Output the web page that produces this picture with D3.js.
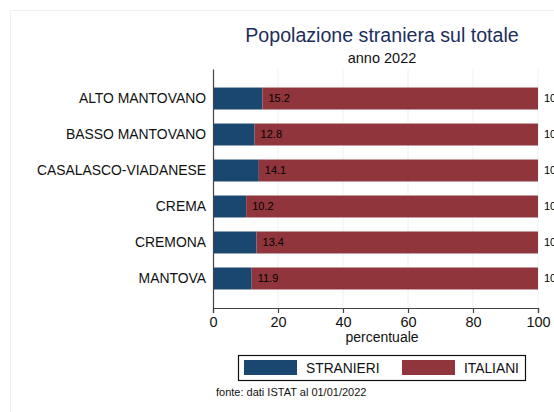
<!DOCTYPE html>
<html lang="it">
<head>
    <meta charset="UTF-8">
    <title>Popolazione straniera sul totale</title>
    <script src="https://d3js.org/d3.v7.min.js"></script>
    <style>
        body { margin: 0; background: #ffffff; }
        svg { display: block; font-family: "Liberation Sans", Arial, sans-serif; }
    </style>
</head>
<body>
    <div id="chart"></div>

    <script>
        // Dati
        const categories = ["ALTO MANTOVANO", "BASSO MANTOVANO", "CASALASCO-VIADANESE", "CREMA", "CREMONA", "MANTOVA"];
        const stranieri = [15.2, 12.8, 14.1, 10.2, 13.4, 11.9];
        const italiani = [84.8, 87.2, 85.9, 89.8, 86.6, 88.1];
        const xTicks = [0, 20, 40, 60, 80, 100];
        const seriesNames = ["STRANIERI", "ITALIANI"];

        const width = 554;
        const height = 412;

        const colors = {
            stranieri: "#1a476f",
            italiani: "#90353b",
            title: "#1c2d5c",
            grid: "#eaf2f3",
            axis: "#444444",
            frame: "#eaf2f2"
        };

        const svg = d3.select("#chart")
            .append("svg")
            .attr("width", width)
            .attr("height", height);

        // cornice chiara (tagliata a destra e in basso)
        svg.append("rect")
            .attr("x", 10.5).attr("y", 10.5)
            .attr("width", 700).attr("height", 500)
            .attr("fill", "none")
            .attr("stroke", colors.frame);

        const x = d3.scaleLinear().domain([0, 100]).range([213, 538]);
        const y = d3.scaleBand()
            .domain(categories)
            .range([69, 308])
            .paddingInner(0.39)
            .paddingOuter(0.515);

        // griglia
        svg.append("g")
            .selectAll("line")
            .data(xTicks.filter(d => d > 0))
            .join("line")
            .attr("x1", d => x(d)).attr("x2", d => x(d))
            .attr("y1", 69).attr("y2", 308)
            .attr("stroke", colors.grid)
            .attr("stroke-width", 1);

        // barre impilate
        const rows = categories.map((c, i) => ({ cat: c, s: stranieri[i], it: italiani[i] }));

        svg.append("g")
            .selectAll("rect")
            .data(rows)
            .join("rect")
            .attr("x", x(0))
            .attr("y", d => y(d.cat))
            .attr("width", d => x(d.s) - x(0))
            .attr("height", y.bandwidth())
            .attr("fill", colors.stranieri);

        svg.append("g")
            .selectAll("rect")
            .data(rows)
            .join("rect")
            .attr("x", d => x(d.s))
            .attr("y", d => y(d.cat))
            .attr("width", d => x(d.s + d.it) - x(d.s))
            .attr("height", y.bandwidth())
            .attr("fill", colors.italiani);

        // etichette valori
        svg.append("g")
            .selectAll("text")
            .data(rows)
            .join("text")
            .attr("x", d => x(d.s) + 6)
            .attr("y", d => y(d.cat) + y.bandwidth() / 2)
            .attr("dy", "0.35em")
            .attr("font-size", 11)
            .attr("fill", "#000")
            .text(d => d.s.toFixed(1));

        // il totale (100) esce dal bordo destro come nell'originale
        svg.append("g")
            .selectAll("text")
            .data(rows)
            .join("text")
            .attr("x", d => x(d.s + d.it) + 6)
            .attr("y", d => y(d.cat) + y.bandwidth() / 2)
            .attr("dy", "0.35em")
            .attr("font-size", 11)
            .attr("fill", "#000")
            .text(d => Math.round(d.s + d.it));

        // asse x
        const xAxis = svg.append("g")
            .attr("transform", "translate(0,308)")
            .call(d3.axisBottom(x).tickValues(xTicks).tickSize(5).tickPadding(4).tickFormat(d3.format("d")));
        xAxis.select(".domain").attr("stroke", colors.axis).attr("stroke-width", 1.2);
        xAxis.selectAll(".tick line").attr("stroke", colors.axis).attr("stroke-width", 1.2);
        xAxis.selectAll(".tick text")
            .attr("font-size", 14.5)
            .attr("font-family", "Liberation Sans, Arial, sans-serif")
            .attr("fill", "#111");

        // asse y
        const yAxis = svg.append("g")
            .attr("transform", "translate(213,0)")
            .call(d3.axisLeft(y).tickSize(0).tickPadding(7));
        yAxis.select(".domain").attr("stroke", colors.axis).attr("stroke-width", 1.2);
        yAxis.selectAll(".tick text")
            .attr("font-size", 13.9)
            .attr("font-family", "Liberation Sans, Arial, sans-serif")
            .attr("fill", "#111");

        svg.append("text")
            .attr("x", 382).attr("y", 342)
            .attr("text-anchor", "middle")
            .attr("font-size", 14)
            .attr("fill", "#111")
            .text("percentuale");

        // titoli
        svg.append("text")
            .attr("x", 382).attr("y", 42)
            .attr("text-anchor", "middle")
            .attr("font-size", 19.6)
            .attr("fill", colors.title)
            .text("Popolazione straniera sul totale");

        svg.append("text")
            .attr("x", 382).attr("y", 63)
            .attr("text-anchor", "middle")
            .attr("font-size", 14.5)
            .attr("fill", "#111")
            .text("anno 2022");

        // legenda
        const legend = svg.append("g");
        legend.append("rect")
            .attr("x", 238.5).attr("y", 355.5)
            .attr("width", 287).attr("height", 25)
            .attr("fill", "#fff")
            .attr("stroke", "#111")
            .attr("stroke-width", 1.2);

        const legendX = [244, 402];
        const legendColors = [colors.stranieri, colors.italiani];
        seriesNames.forEach((name, i) => {
            legend.append("rect")
                .attr("x", legendX[i]).attr("y", 360)
                .attr("width", 53).attr("height", 15)
                .attr("fill", legendColors[i]);
            legend.append("text")
                .attr("x", legendX[i] + 62).attr("y", 372.5)
                .attr("font-size", 13.8)
                .attr("fill", "#111")
                .text(name);
        });

        svg.append("text")
            .attr("x", 216).attr("y", 396)
            .attr("font-size", 11)
            .attr("fill", "#111")
            .text("fonte: dati ISTAT al 01/01/2022");
    </script>
</body>
</html>
